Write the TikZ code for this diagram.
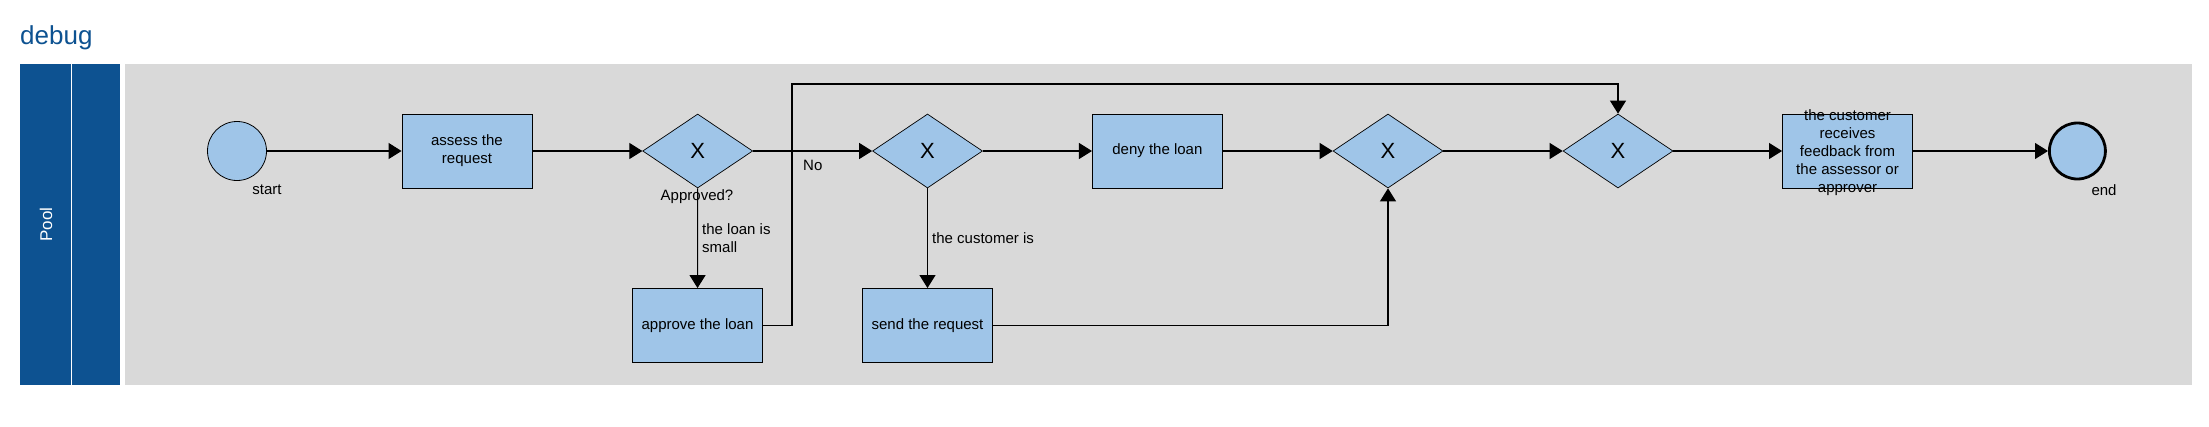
\documentclass[tikz,border=0pt]{standalone}
\usepackage{fontspec}
\setmainfont{Liberation Sans}
\usetikzlibrary{shapes.geometric,arrows.meta}
\definecolor{poolblue}{HTML}{0D5291}
\definecolor{taskblue}{HTML}{9FC5E8}
\definecolor{lanegray}{HTML}{D9D9D9}
\begin{document}
\begin{tikzpicture}[x=1pt,y=-1pt,
  task/.style={draw=black,line width=0.9pt,fill=taskblue,minimum width=130pt,minimum height=74pt,inner sep=0pt,text width=122pt,align=flush center,font=\fontsize{15}{18}\selectfont},
  gate/.style={diamond,draw=black,line width=0.7pt,fill=taskblue,minimum width=110pt,minimum height=74pt,inner sep=0pt,font=\fontsize{22}{26}\selectfont},
  evstart/.style={circle,draw=black,line width=0.8pt,fill=taskblue,minimum size=59pt,inner sep=0pt},
  evend/.style={circle,draw=black,line width=2.8pt,fill=taskblue,minimum size=56pt,inner sep=0pt},
  lbl/.style={inner sep=0pt,font=\fontsize{15}{18}\selectfont},
  flow/.style={line width=1.1pt,-{Triangle[length=13pt,width=16pt]}}
]
\useasboundingbox (0,0) rectangle (2209,426);
\fill[white] (0,0) rectangle (2209,426);
% title
\node[anchor=base west,inner sep=0pt,text=poolblue,font=\fontsize{26}{30}\selectfont] (title) at (20,44) {debug};
% pool and lane
\fill[poolblue] (20,64) rectangle (120,385);
\draw[white,line width=1pt] (71,64) -- (71,385);
\fill[lanegray] (125,64) rectangle (2192,385);
\node[rotate=90,text=white,font=\fontsize{17}{20}\selectfont,inner sep=0pt] (pool) at (46,224.5) {Pool};
% nodes
\node[evstart] (start) at (237,151) {};
\node[lbl] (startlbl) at (267,190) {start};
\node[task] (assess) at (467,151) {assess the request};
\node[gate] (g1) at (697.7,151) {X};
\node[task] (approve) at (697.5,325.5) {approve the loan};
\node[gate] (g2) at (927.5,151) {X};
\node[task] (send) at (927.5,325.5) {send the request};
\node[task] (deny) at (1157.4,151) {deny the loan};
\node[gate] (g3) at (1388,151) {X};
\node[gate] (g4) at (1618,151) {X};
\node[task] (cust) at (1847.5,151) {};
\node[lbl,text width=112pt,align=flush center] (custtxt) at (1847.5,153) {the customer receives feedback from the assessor or approver};
\node[evend] (end) at (2077.4,151) {};
\node[lbl] (endlbl) at (2104,190) {end};
% connectors
\coordinate (rt) at (792,84);
\draw[flow] (start) -- (assess);
\draw[flow] (assess) -- (g1);
\draw[flow] (g1) -- (g2);
\draw[flow] (g1) -- (approve);
\draw[flow] (approve.east) -| (rt) -| (g4.north);
\draw[flow] (g2) -- (deny);
\draw[flow] (g2) -- (send);
\draw[flow] (deny) -- (g3);
\draw[flow] (send.east) -| (g3.south);
\draw[flow] (g3) -- (g4);
\draw[flow] (g4) -- (cust);
\draw[flow] (cust) -- (end);
% labels
\node[lbl] (l1) at (697,197) {Approved?};
\node[lbl,anchor=west,align=left] (l2) at (702,238) {the loan is\\small};
\node[lbl,anchor=west] (l3) at (803,165) {No};
\node[lbl,anchor=west] (l4) at (932,238) {the customer is};
\end{tikzpicture}
\end{document}
